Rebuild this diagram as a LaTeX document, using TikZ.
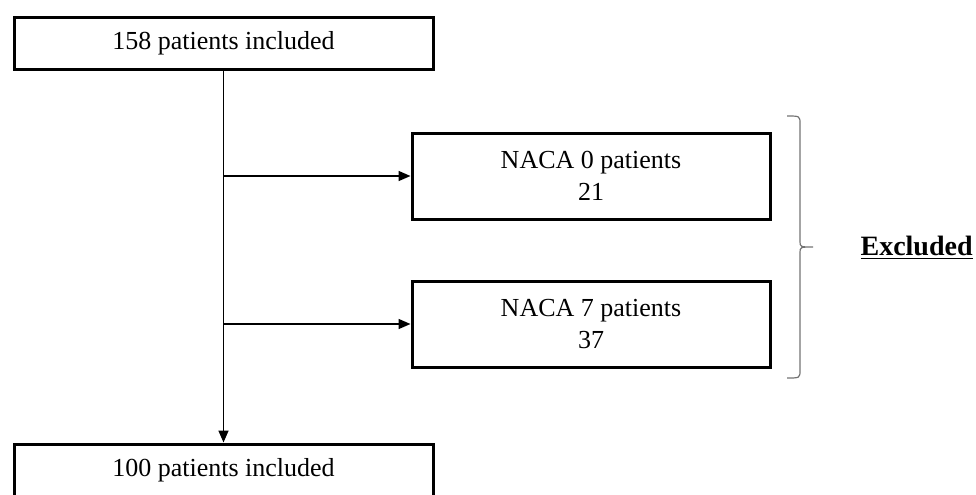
\documentclass[tikz,border=0pt]{standalone}
\usepackage{fontspec}
\setmainfont{Liberation Serif}
\usetikzlibrary{arrows.meta,calc}
\tikzset{
    stage/.style =  {rectangle,
                    fill=white,
                    draw=black,
                    text=black,
                    line width=1.5pt,
                    minimum width=209.5pt,
                    minimum height=26pt,
                    inner sep=0pt},
    cut/.style =    {rectangle,
                    fill=white,
                    draw=black,
                    text=black,
                    line width=1.5pt,
                    minimum width=179pt,
                    minimum height=43pt,
                    align=center,
                    inner sep=0pt},
    flow/.style =   {draw=black,
                    line width=0.8pt},
    brace/.style =  {draw=black!55,
                    line width=0.6pt},
    -,
    >={Triangle[length=6pt,width=5pt]},
    node distance=2cm}
\begin{document}
\begin{tikzpicture}[x=0.5pt,y=-0.5pt,font=\fontsize{13}{16}\selectfont]
                \useasboundingbox (0,0) rectangle (976,494);
                \clip (0,0) rectangle (976,494);
                \node[stage]    (top)   at (223.5,43)   {158 patients included};
                \node[cut]      (naca0) at (591,176)    {NACA 0 patients\\21};
                \node[cut]      (naca7) at (591,324)    {NACA 7 patients\\37};
                \node[stage]    (bot)   at (223.5,470)  {100 patients included};
                \coordinate     (j0)    at (top.south |- naca0.west);
                \coordinate     (j7)    at (top.south |- naca7.west);
                \draw [flow,->] (top.south) -- (bot.north);
                \draw [flow,->] (j0) -- (naca0.west);
                \draw [flow,->] (j7) -- (naca7.west);
                % bracket round the two exclusions
                \coordinate     (b1)    at (787,116);
                \coordinate     (b2)    at (787,378);
                \coordinate     (tip)   at (813,247);
                \draw [brace]   (b1) .. controls (800,116) .. (800,124) -- (800,241)
                                .. controls (800,247) .. (tip)
                                .. controls (800,247) .. (800,253) -- (800,370)
                                .. controls (800,378) .. (b2);
                \node[anchor=east,inner sep=0pt,font=\fontsize{14}{16}\selectfont] (excl) at (973,248) {\textbf{\underline{Excluded}}};
        \end{tikzpicture}
\end{document}
